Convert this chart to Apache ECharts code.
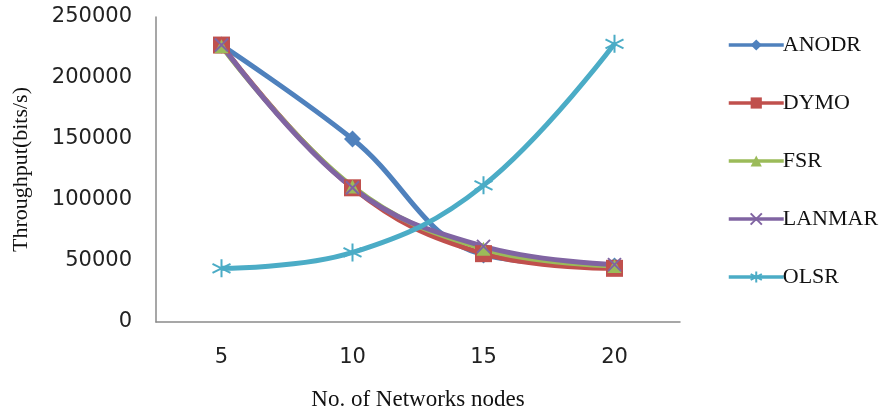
<!DOCTYPE html>
<html>
<head>
<meta charset="utf-8">
<script src="https://cdn.jsdelivr.net/npm/echarts@6/dist/echarts.min.js"></script>
<style>
  html, body { margin: 0; padding: 0; background: #fff; }
  #chart { width: 892px; height: 414px; }
</style>
</head>
<body>
<div id="chart"></div>
<script>
// Network sizes on the x axis
const nodeCounts = ['5', '10', '15', '20'];

// Throughput (bits/s) per routing protocol
const anodr  = [227000, 150000, 55000, 46000];
const dymo   = [227000, 110000, 56000, 44000];
const fsr    = [226000, 111000, 60000, 46000];
const lanmar = [227000, 110000, 62000, 47000];
const olsr   = [44000, 57000, 112000, 228000];

const yTicks = [0, 50000, 100000, 150000, 200000, 250000];

const serif = '"Liberation Serif", "DejaVu Serif", serif';
const sans = '"DejaVu Sans", Verdana, sans-serif';

const xMark = 'path://M0,0L10,10M10,0L0,10';
const starMark = 'path://M5,0L5,10M0.7,2.5L9.3,7.5M0.7,7.5L9.3,2.5';

function line(name, data, color, symbol, size, stroked) {
  return {
    name: name,
    type: 'line',
    data: data,
    smooth: 0.4,
    symbol: symbol,
    symbolSize: size,
    showAllSymbol: true,
    lineStyle: { width: 5, color: color },
    itemStyle: stroked
      ? { color: color, borderColor: color, borderWidth: 2 }
      : { color: color },
    emphasis: { disabled: true }
  };
}

const chart = echarts.init(document.getElementById('chart'));
chart.setOption({
  animation: false,
  backgroundColor: '#fff',
  grid: {
    left: 156, right: 212, top: 17, bottom: 92,
    containLabel: false,
    outerBoundsMode: 'none'
  },
  xAxis: {
    type: 'category',
    data: nodeCounts,
    boundaryGap: true,
    name: 'No. of Networks nodes',
    nameLocation: 'middle',
    nameGap: 66,
    nameTextStyle: { fontFamily: serif, fontSize: 23, color: '#111' },
    axisLine: { lineStyle: { color: '#8a8a8a', width: 1.5 } },
    axisTick: { show: false },
    axisLabel: { fontFamily: sans, fontSize: 21, color: '#222', margin: 25 },
    splitLine: { show: false }
  },
  yAxis: {
    type: 'value',
    min: yTicks[0],
    max: yTicks[yTicks.length - 1],
    interval: yTicks[1] - yTicks[0],
    name: 'Throughput(bits/s)',
    nameLocation: 'middle',
    nameGap: 124,
    nameRotate: 90,
    nameTextStyle: { fontFamily: serif, fontSize: 22, color: '#111' },
    axisLine: { show: true, lineStyle: { color: '#8a8a8a', width: 1.5 } },
    axisTick: { show: false },
    axisLabel: {
      fontFamily: sans, fontSize: 21, color: '#222', margin: 24,
      formatter: function (v) { return String(v); }
    },
    splitLine: { show: false }
  },
  legend: {
    orient: 'vertical',
    left: 722,
    top: 29,
    itemWidth: 55,
    itemHeight: 14,
    itemGap: 36,
    lineStyle: { width: 3.5 },
    textStyle: {
      fontFamily: serif, fontSize: 22, lineHeight: 22, color: '#111',
      padding: [0, 0, 0, -6]
    },
    data: ['ANODR', 'DYMO', 'FSR', 'LANMAR', 'OLSR']
  },
  series: [
    line('ANODR', anodr, '#4F81BD', 'diamond', 17, false),
    line('DYMO', dymo, '#C0504D', 'rect', 17, false),
    line('FSR', fsr, '#9BBB59', 'triangle', 14, false),
    line('LANMAR', lanmar, '#8064A2', xMark, 13, true),
    line('OLSR', olsr, '#4BACC6', starMark, 18, true)
  ]
});
</script>
</body>
</html>
